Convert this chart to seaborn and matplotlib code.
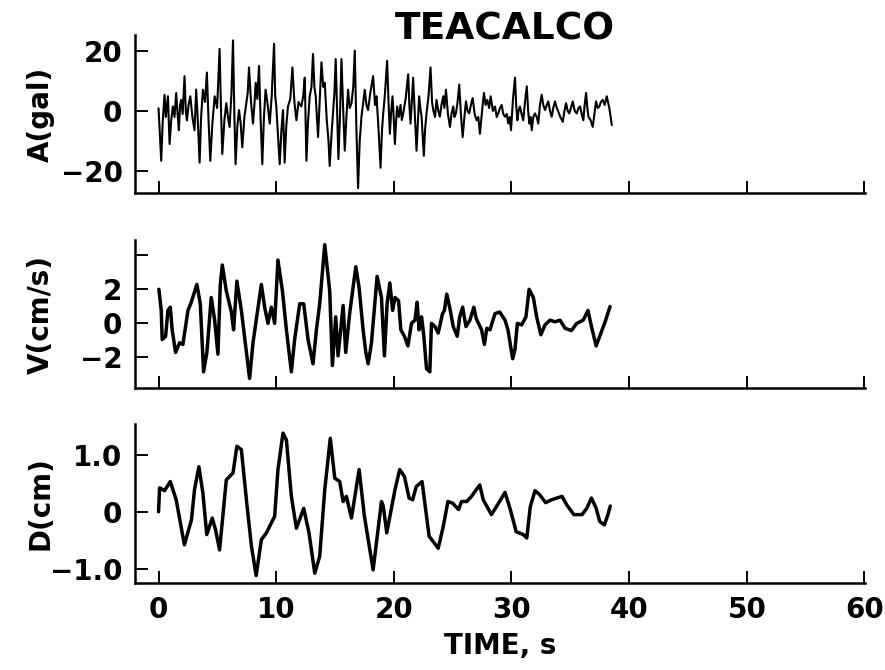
import matplotlib
matplotlib.use("Agg")
import matplotlib.pyplot as plt
import seaborn as sns
import pandas as pd

# ---- data ----
acc_t = [0.0, 0.12, 0.23, 0.35, 0.51, 0.62, 0.8, 0.94, 1.08, 1.22, 1.36, 1.5, 1.62, 1.73, 1.83,
         1.93, 2.05, 2.21, 2.32, 2.41, 2.55, 2.7, 2.88, 3.06, 3.2, 3.35, 3.49, 3.62, 3.77, 3.95,
         4.11, 4.25, 4.4, 4.58, 4.77, 4.98, 5.19, 5.3, 5.42, 5.6, 5.76, 5.9, 6.04, 6.2, 6.33,
         6.45, 6.55, 6.7, 6.84, 6.98, 7.12, 7.3, 7.46, 7.58, 7.69, 7.86, 8.03, 8.15, 8.26, 8.4,
         8.54, 8.68, 8.82, 8.96, 9.1, 9.28, 9.45, 9.62, 9.82, 9.92, 10.01, 10.15, 10.3, 10.45,
         10.58, 10.72, 10.86, 11.0, 11.2, 11.38, 11.55, 11.72, 11.9, 12.14, 12.3, 12.43, 12.57,
         12.7, 12.85, 13.0, 13.13, 13.25, 13.36, 13.56, 13.7, 13.85, 14.0, 14.13, 14.3, 14.45,
         14.55, 14.7, 14.83, 14.95, 15.06, 15.18, 15.29, 15.42, 15.55, 15.7, 15.83, 15.97, 16.11,
         16.25, 16.4, 16.55, 16.68, 16.82, 16.96, 17.1, 17.25, 17.4, 17.53, 17.67, 17.81, 18.0,
         18.24, 18.4, 18.53, 18.7, 18.87, 19.0, 19.1, 19.23, 19.43, 19.55, 19.66, 19.78, 19.89,
         20.0, 20.09, 20.2, 20.28, 20.42, 20.57, 20.68, 20.8, 21.0, 21.22, 21.32, 21.42, 21.53,
         21.64, 21.8, 21.93, 22.05, 22.15, 22.25, 22.36, 22.45, 22.55, 22.66, 22.78, 22.95,
         23.12, 23.25, 23.35, 23.5, 23.63, 23.78, 23.91, 24.05, 24.2, 24.3, 24.43, 24.6, 24.77,
         24.9, 25.05, 25.15, 25.28, 25.42, 25.56, 25.7, 25.85, 26.0, 26.13, 26.27, 26.41, 26.55,
         26.7, 26.87, 27.04, 27.18, 27.32, 27.5, 27.66, 27.8, 27.94, 28.1, 28.23, 28.42, 28.6,
         28.75, 28.88, 29.02, 29.17, 29.3, 29.45, 29.6, 29.73, 29.85, 29.96, 30.13, 30.3, 30.4,
         30.5, 30.6, 30.72, 30.86, 31.0, 31.15, 31.3, 31.42, 31.52, 31.62, 31.72, 31.86, 32.0,
         32.15, 32.28, 32.42, 32.57, 32.7, 32.85, 33.0, 33.13, 33.28, 33.42, 33.55, 33.7, 33.85,
         33.98, 34.15, 34.36, 34.5, 34.64, 34.78, 34.92, 35.05, 35.21, 35.38, 35.55, 35.7, 35.83,
         35.97, 36.11, 36.22, 36.34, 36.45, 36.54, 36.72, 36.91, 37.05, 37.19, 37.33, 37.47,
         37.6, 37.76, 37.92, 38.1, 38.2, 38.32, 38.53]
acc_a = [0.9, -8, -16.6, -4, 5.4, -2, 4.9, -11.0, -3, 1.5, -2, 6.0, -1, -6.4, 2,
         3.7, -1, 11.6, 0, -3.1, 2, 4.9, -2, -6.4, 7.1, -4, -17.2, -2, 7.1, 3,
         12.8, -3, -16.6, -4, 4.9, 1, 20.7, 2, -14.3, -3, 2.6, -2, -5.3, 6, 23.5,
         -2, -17.7, -5, 0.3, -4, -12.1, -2, 2.6, 6, 14.5, 3, -4.2, 2, 9.4, 4,
         15.0, -3, -17.7, -2, 7.1, 2, -4.2, 5, 22.4, 5, 1.5, -8, -17.7, -6,
         0.3, -17.2, -5, 1.5, 4, 14.5, 3, -3.1, 3, 1.5, 5, 11.1, -16.6,
         -4, 4.9, 8, 19.0, 8, 4.9, -8.7, 3, 16.2, 8, 9.4, -3, -10,
         -18.3, -8, -0.8, 6, 17.3, 0, -16.0, -2, 17.3, 0, -13.2, -2, 7.1,
         1, 2.6, 8, 20.1, -6, -25.7, -10, -1.9, 3, 7.1, 2, 0.3, 6,
         11.6, 2, 4.9, -6, -18.9, -6, -0.8, 4.9, 16.7, 3, -7.6, 0, 4.9,
         -3, -11.0, -3, 1.5, -2, 2.0, -3, -0.8, 4, 12.2, 2, -4.2, 3,
         11.1, -2, -13.2, -3, 4.9, 1, -1.9, -8, -14.9, -6, -0.8, 5,
         14.5, 3, 0.3, -2, 3.7, 0, -1.9, 2, 4.9, 1, 7.1, -1, -5.3,
         -1, 1.5, -2, -0.8, 3, 8.8, -1, -8.7, -2, 3.2, 0, -0.8, 2,
         4.3, -1, -3.1, -2, -7.6, 0, 6.0, 2, 3.7, 1, 4.9, 0, 1.5,
         -2, -0.8, 1, 2.0, -1, -1.9, -1, -4.2, -2, -6.4, 4, 11.1, 2,
         -3.1, 0, 1.5, -1, -3.1, 3, 8.2, 0, -4.2, -2, -6.4, -2, -0.8,
         -2, -4.2, 2, 5.4, 2, 0.3, 2, 3.2, 0, -1.9, 1, 3.2, 1,
         -0.2, -2, -3.6, 0, 2.6, 0, -0.8, 1, 3.2, 0, -0.8, 1, 1.5,
         -1, -3.1, 2, 6.0, 1, -1.9, -3, -5.3, -1, 3.2, 1, 1.5,
         3, 3.7, 2, 4.9, 3, 0.9, -4.7]

vel_t = [0.03, 0.23, 0.31, 0.6, 0.8, 1.0, 1.16, 1.45, 1.79, 2.07, 2.5, 2.78, 3.26, 3.55, 3.83,
         4.11, 4.48, 4.77, 5.05, 5.25, 5.42, 5.76, 6.19, 6.38, 6.66, 7.04, 7.74, 8.03, 8.74,
         9.02, 9.3, 9.59, 9.87, 10.15, 10.53, 10.87, 11.29, 11.57, 12.0, 12.34, 12.71, 13.13,
         13.42, 13.7, 14.13, 14.55, 14.78, 15.06, 15.26, 15.69, 15.91, 16.26, 16.77, 17.05,
         17.39, 17.62, 17.82, 18.1, 18.58, 18.95, 19.2, 19.43, 19.66, 19.9, 20.1, 20.4, 20.6,
         20.9, 21.2, 21.5, 21.8, 21.98, 22.15, 22.36, 22.55, 22.78, 23.06, 23.2, 23.5, 23.77,
         24.14, 24.3, 24.5, 24.77, 25.05, 25.39, 25.6, 25.85, 26.13, 26.47, 26.8, 27.0, 27.46,
         27.7, 27.9, 28.17, 28.6, 29.0, 29.45, 29.7, 30.1, 30.3, 30.5, 30.87, 31.23, 31.5,
         31.86, 32.14, 32.5, 32.85, 33.28, 33.7, 34.13, 34.55, 35.1, 35.55, 36.1, 36.5, 36.8,
         37.2, 37.5, 37.96, 38.38]
vel_v = [1.98, 0.74, -0.97, -0.78, 0.74, 0.93, -0.4, -1.73, -1.16, -1.26, 0.74, 1.22, 2.27, 1.13, -2.87,
         -1.73, 1.5, 0.17, -1.83, 2.27, 3.41, 1.89, 0.65, -0.4, 2.46, 0.74, -3.26, -1.16, 2.27,
         0.93, -0.02, 0.93, -0.02, 3.7, 1.89, -0.4, -2.87, -0.97, 1.13, 1.13, -0.97, -2.4,
         -0.4, 1.13, 4.6, 1.89, -2.5, 0.36, -1.93, 1.03, -1.73, 0.65, 3.31, 2.07,
         -0.4, -1.73, -2.4, -1.16, 2.74, 1.5, -1.93, 1.13, 2.36, 0.74, 1.5, 1.31, -0.4,
         -0.78, -1.35, -0.02, 0.17, 1.22, -0.4, 0.36, -0.78, -2.69, -2.87, -0.02, -0.21, -0.59,
         0.55, 0.74, 1.7, 0.84, -0.21, -0.78, 0.36, 0.93, -0.21, 0.17, 0.93, 0.27, -0.4,
         -1.26, -0.31, -0.4, 0.55, 0.65, 0.17, -0.4, -2.1, -1.54, -0.02, -0.11, 0.36, 1.98,
         1.5, 0.36, -0.69, -0.11, 0.17, 0.07, 0.17, -0.31, -0.44, -0.02, 0.17, 0.74, -0.21,
         -1.35, -0.78, 0.07, 0.97]

dis_t = [0.0, 0.09, 0.51, 1.0, 1.5, 2.2, 2.8, 3.06, 3.43, 3.77, 4.1, 4.57, 4.85, 5.19, 5.76,
         6.33, 6.66, 7.04, 7.5, 7.9, 8.3, 8.74, 9.17, 9.87, 10.15, 10.58, 10.87, 11.29, 11.72,
         12.34, 12.79, 13.28, 13.7, 14.13, 14.6, 14.98, 15.4, 15.69, 15.97, 16.4, 17.05, 17.5,
         18.24, 18.95, 19.1, 19.4, 20.1, 20.5, 20.9, 21.3, 21.6, 21.9, 22.4, 23.0, 23.77,
         24.2, 24.6, 25.0, 25.5, 25.76, 26.2, 26.6, 27.3, 27.6, 28.3, 28.9, 29.45, 29.9, 30.4,
         31.0, 31.3, 31.6, 32.0, 32.4, 32.9, 33.4, 34.3, 34.7, 35.3, 36.0, 36.4, 36.8, 37.2,
         37.5, 37.9, 38.2, 38.4]
dis_d = [0.0, 0.42, 0.37, 0.53, 0.21, -0.58, -0.14, 0.39, 0.79, 0.33, -0.40, -0.11, -0.32, -0.67, 0.56,
         0.68, 1.15, 1.09, 0.15, -0.61, -1.12, -0.49, -0.37, -0.08, 0.74, 1.38, 1.26, 0.27, -0.29,
         0.06, -0.37, -1.08, -0.78, 0.39, 1.29, 0.59, 0.53, 0.18, 0.27, -0.11, 0.74, -0.08,
         -1.02, 0.18, 0.1, -0.37, 0.39, 0.74, 0.62, 0.24, 0.21, 0.44, 0.53, -0.43, -0.64,
         -0.26, 0.18, 0.15, 0.04, 0.18, 0.18, 0.27, 0.47, 0.21, -0.05, 0.15, 0.34, 0.04, -0.35,
         -0.40, -0.46, 0.09, 0.37, 0.30, 0.16, 0.21, 0.27, 0.12, -0.05, -0.05, 0.06, 0.24, 0.06,
         -0.17, -0.23, -0.05, 0.1]

x_ticks = [0, 10, 20, 30, 40, 50, 60]
panels = [
    dict(t=acc_t, y=acc_a, label="A(gal)", ylim=(-27.3, 25.3), ticks=[-20, 0, 20],
         ticklabels=["\u221220", "0", "20"], lw=1.5),
    dict(t=vel_t, y=vel_v, label="V(cm/s)", ylim=(-3.82, 4.88), ticks=[-2, 0, 2, 4],
         ticklabels=["\u22122", "0", "2", ""], lw=2.5),
    dict(t=dis_t, y=dis_d, label="D(cm)", ylim=(-1.25, 1.54), ticks=[-1.0, 0, 1.0],
         ticklabels=["\u22121.0", "0", "1.0"], lw=2.5),
]

sns.set_theme(style="ticks")
plt.rcParams["font.family"] = ["DejaVu Sans"]
plt.rcParams["text.color"] = "black"
plt.rcParams["axes.labelcolor"] = "black"

FS = 20
fig = plt.figure(figsize=(8.85, 6.7), dpi=100)
W, H = 885, 670
boxes = [(35, 193), (240, 388), (424, 583)]
left_px, right_px = 135, 865

for p, (top, bot) in zip(panels, boxes):
    ax = fig.add_axes([left_px / W, 1 - bot / H, (right_px - left_px) / W, (bot - top) / H])
    df = pd.DataFrame({"t": p["t"], "y": p["y"]})
    sns.lineplot(data=df, x="t", y="y", ax=ax, color="black", linewidth=p["lw"],
                 estimator=None, sort=False)
    ax.set_xlim(-2, 60.05)
    ax.set_ylim(*p["ylim"])
    ax.set_xticks(x_ticks)
    ax.set_yticks(p["ticks"])
    ax.set_yticklabels(p["ticklabels"])
    ax.set_xlabel("")
    ax.set_ylabel(p["label"], fontsize=FS, fontweight="bold")
    ax.yaxis.set_label_coords((55 - left_px) / (right_px - left_px), 0.5)
    for s in ["top", "right"]:
        ax.spines[s].set_visible(False)
    for s in ["left", "bottom"]:
        ax.spines[s].set_linewidth(1.8)
        ax.spines[s].set_color("black")
    ax.tick_params(direction="in", length=9, width=1.4, colors="black",
                   labelsize=FS, pad=9)
    for lab in ax.get_yticklabels():
        lab.set_fontweight("bold")
    if p is panels[-1]:
        ax.set_xticklabels([str(v) for v in x_ticks])
        for lab in ax.get_xticklabels():
            lab.set_fontweight("bold")
        ax.set_xlabel("TIME, s", fontsize=FS, fontweight="bold", labelpad=6)
    else:
        ax.set_xticklabels([])
    ax.patch.set_alpha(0)

fig.text(505 / W, 1 - 30 / H, "TEACALCO", ha="center", va="center",
         fontsize=27, fontweight="bold")
fig.savefig("out.png", dpi=100, facecolor="white")
